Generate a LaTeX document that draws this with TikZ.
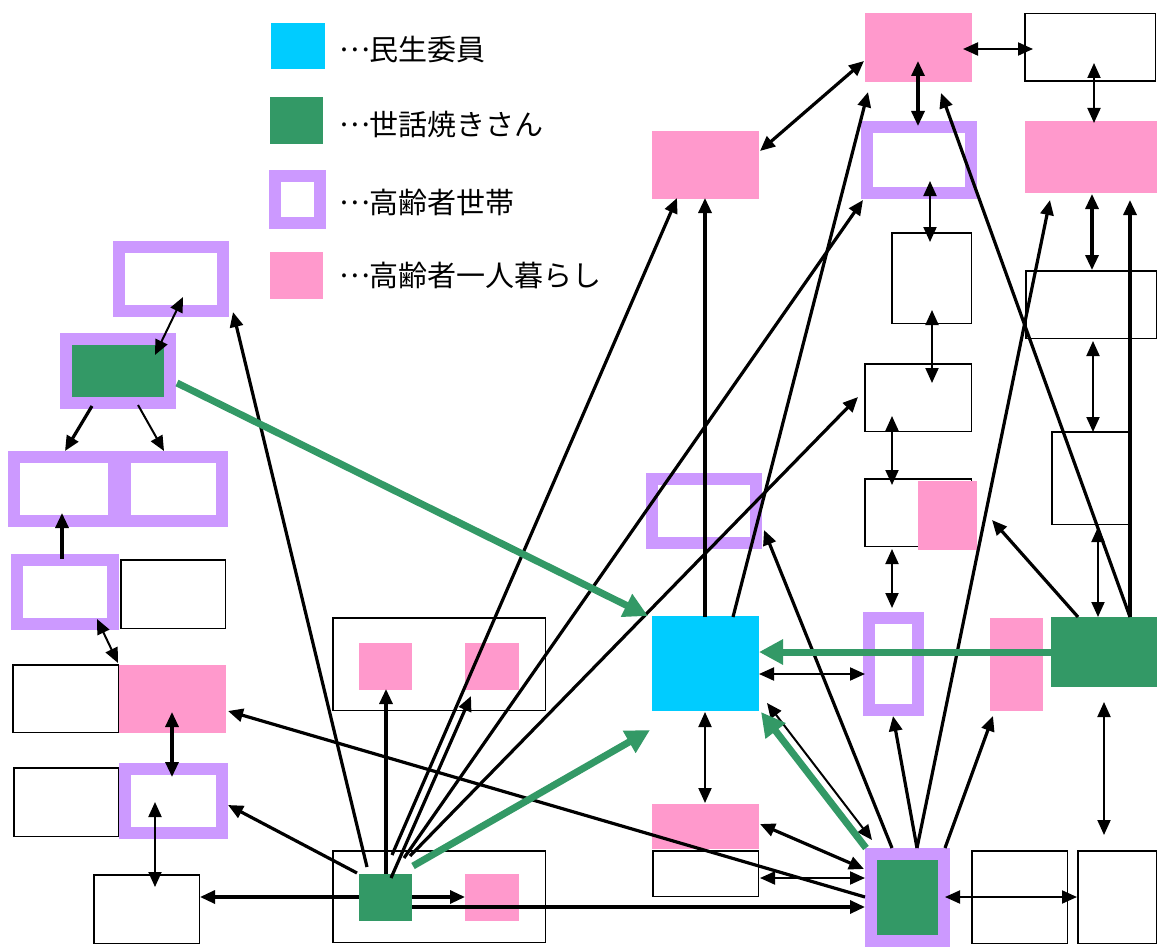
\documentclass[tikz,border=0pt]{standalone}
\usepackage{fontspec}
\newfontfamily\cjk{Noto Sans CJK JP}
\usetikzlibrary{arrows.meta,calc}
\definecolor{cyanc}{HTML}{00CCFF}
\definecolor{greenc}{HTML}{339966}
\definecolor{purpc}{HTML}{CC99FF}
\definecolor{pinkc}{HTML}{FF99CC}
\newcommand{\middots}{\raisebox{9pt}{…}}
\begin{document}
\begin{tikzpicture}[x=1pt,y=-1pt,
  >={Triangle[length=15pt,width=13pt]},
  box/.style={inner sep=0pt, outer sep=0pt},
  sz/.style 2 args={minimum width=#1, minimum height=#2},
  pbox/.style={box, draw=purpc, line width=12pt, fill=white},
  wbox/.style={box, draw=black, line width=1.5pt, fill=white},
  pk/.style={box, fill=pinkc},
  gn/.style={box, fill=greenc},
  cy/.style={box, fill=cyanc},
  thk/.style={line width=3.2pt},
  thn/.style={line width=2pt},
  garr/.style={draw=greenc, line width=7pt, -{Triangle[length=24pt,width=24pt]}},
  lab/.style={anchor=west, inner sep=0pt, font=\cjk\fontsize{29pt}{34pt}\selectfont}
]
\useasboundingbox[fill=white] (0,0) rectangle (1157,947);

% legend
\node[cy, sz={54pt}{46pt}] (L1) at (298,46) {};
\node[gn, sz={53pt}{47pt}] (L2) at (296.5,120.5) {};
\node[pbox, sz={45pt}{47pt}] (L3) at (297.5,199.5) {};
\node[pk, sz={53pt}{47pt}] (L4) at (296.5,275.5) {};
\node[lab] (T1) at (339,50) {\middots 民生委員};
\node[lab] (T2) at (339,124) {\middots 世話焼きさん};
\node[lab] (T3) at (339,202) {\middots 高齢者世帯};
\node[lab] (T4) at (339,275) {\middots 高齢者一人暮らし};

% left group
\node[pbox, sz={104pt}{64pt}] (A1) at (171,279) {};
\node[pbox, fill=greenc, sz={104pt}{64pt}] (A2) at (118,371) {};
\node[pbox, sz={100pt}{64pt}] (A3) at (64,489) {};
\node[pbox, sz={97pt}{64pt}] (A4) at (173.5,489) {};
\node[pbox, sz={96pt}{64pt}] (A5) at (65,592) {};
\node[wbox, sz={104.5pt}{68.5pt}] (A6) at (173,594) {};
\node[wbox, sz={105.5pt}{67.5pt}] (A7) at (65.5,698.5) {};
\node[pk, sz={107pt}{68pt}] (A8) at (172.5,699) {};
\node[wbox, sz={104.5pt}{68.5pt}] (A9) at (66,802) {};
\node[pbox, sz={97pt}{64pt}] (A10) at (173.5,801) {};
\node[wbox, sz={105.5pt}{68.5pt}] (A11) at (146.5,909) {};

% middle bottom
\node[wbox, sz={212.5pt}{92.5pt}] (B1) at (439,664) {};
\node[pk, sz={53pt}{47pt}] (B1a) at (385.5,666.5) {};
\node[pk, sz={54pt}{47pt}] (B1b) at (492,666.5) {};
\node[wbox, sz={212.5pt}{91.5pt}] (B2) at (439,896.5) {};
\node[gn, sz={53pt}{47pt}] (B2a) at (385.5,897.5) {};
\node[pk, sz={54pt}{47pt}] (B2b) at (492,897.5) {};

% center column
\node[pk, sz={107pt}{68pt}] (C1) at (705.5,165) {};
\node[pbox, sz={104pt}{64pt}] (C2) at (704,511) {};
\node[cy, sz={107pt}{95pt}] (C3) at (705.5,663.5) {};
\node[pk, sz={107pt}{45pt}] (C4) at (705.5,826.5) {};
\node[wbox, sz={105.5pt}{45.5pt}] (C5) at (705.5,873.5) {};
\node[pbox, sz={49pt}{92pt}] (C6) at (893.5,664) {};
\node[pbox, fill=greenc, sz={73pt}{87pt}] (C7) at (907.5,897.5) {};

% right columns
\node[pk, sz={107pt}{69pt}] (D1) at (918.5,47.5) {};
\node[wbox, sz={130.5pt}{67.5pt}] (D2) at (1090,47.5) {};
\node[pbox, sz={104pt}{66pt}] (D3) at (919,160) {};
\node[pk, sz={132pt}{72pt}] (D4) at (1091,157) {};
\node[wbox, sz={79.5pt}{90.5pt}] (D5) at (931.5,278) {};
\node[wbox, sz={130.5pt}{67.5pt}] (D6) at (1091,304.5) {};
\node[wbox, sz={106.5pt}{67.5pt}] (D7) at (918,397.5) {};
\node[wbox, sz={106.5pt}{67.5pt}] (D8) at (918,512.5) {};
\node[pk, sz={59pt}{69pt}] (D8p) at (947.5,515.5) {};
\node[wbox, sz={77.5pt}{92.5pt}] (D9) at (1090.5,478) {};
\node[pk, sz={53pt}{93pt}] (D10) at (1016.5,664.5) {};
\node[gn, sz={106pt}{70pt}] (D11) at (1104,652) {};
\node[wbox, sz={95.5pt}{92.5pt}] (D12) at (1019.5,897) {};
\node[wbox, sz={78.5pt}{92.5pt}] (D13) at (1117,897) {};

% ---- black connectors ----
\draw[thn,<->] ($(A1)+(12,18)$) -- ($(A2)+(37,-16)$);
\draw[thk,->] ($(A2)+(-26,35)$) -- ($(A3)+(1,-38)$);
\draw[thn,->] ($(A2)+(20,34)$) -- ($(A4)+(-9.5,-38)$);
\draw[thk,->] ($(A5)+(-3,-33)$) -- ($(A3)+(-2,24)$);
\draw[thn,<->] ($(A5)+(32,27)$) -- ($(A8)+(-54.5,-36)$);
\draw[thk,<->] ($(A8)+(-0.5,13)$) -- ($(A10)+(-1.5,-24)$);
\draw[thn,<->] ($(A10)+(-18.5,1)$) -- ($(A11)+(8.5,-22)$);

\draw[thk,->] ($(B2a)+(-26.5,-0.5)$) -- ($(A11)+(53.5,-12)$);
\draw[thk,->] ($(B2a)+(-28.5,-24.5)$) -- ($(A10)+(54.5,4)$);
\draw[thk,->] ($(C7)+(-42.5,-0.5)$) -- ($(A8)+(55.5,12)$);
\draw[thk,->] ($(B2a)+(-18.5,-30.5)$) -- ($(A1)+(62,33)$);
\draw[thk,->] ($(B2a)+(0.5,-23.5)$) -- ($(B1a)+(0.5,22.5)$);
\draw[thk,->] ($(B2a)+(26.5,-0.5)$) -- ($(B2b)+(-27,-0.5)$);
\draw[thk,->] ($(B2a)+(26.5,9.5)$) -- ($(C7)+(-42.5,9.5)$);
\draw[thk,->] ($(B2a)+(6.5,-42.5)$) -- ($(C1)+(-28.5,33)$);
\draw[thk,->] ($(B2a)+(5.5,-19.5)$) -- ($(B1b)+(-21,29.5)$);
\draw[thk,->] ($(B2a)+(18.5,-39.5)$) -- ($(D3)+(-56,40)$);
\draw[thk,->] ($(B2a)+(24.5,-41.5)$) -- ($(D7)+(-60,-0.5)$);

\draw[thn,<->] ($(C3)+(53.5,10.5)$) -- ($(C6)+(-28.5,10)$);
\draw[thn,<->] ($(C3)+(61.5,39.5)$) -- ($(C7)+(-35.5,-57.5)$);
\draw[thn,<->] ($(C3)+(-0.5,48.5)$) -- ($(C4)+(-0.5,-23.5)$);
\draw[thk,<->] ($(C4)+(54.5,-2.5)$) -- ($(C7)+(-43.5,-28.5)$);
\draw[thn,<->] ($(C5)+(54.5,4.5)$) -- ($(C7)+(-42.5,-19.5)$);
\draw[thk,->] ($(C3)+(-0.5,-46.5)$) -- ($(C1)+(-0.5,33)$);
\draw[thk,->] ($(C3)+(27.5,-46.5)$) -- ($(D1)+(-50.5,44.5)$);
\draw[thk,<->] ($(C1)+(54.5,-14)$) -- ($(D1)+(-54.5,13.5)$);

\draw[thk,->] ($(C7)+(-15.5,-49.5)$) -- ($(C2)+(60,19)$);
\draw[thk,->] ($(C7)+(9.5,-49.5)$) -- ($(C6)+(-0.5,52)$);
\draw[thk,->] ($(C7)+(9.5,-49.5)$) -- ($(D4)+(-41,43)$);
\draw[thk,->] ($(C7)+(37.5,-49.5)$) -- ($(D10)+(-23.5,51.5)$);
\draw[thn,<->] ($(C7)+(37.5,-0.5)$) -- ($(D13)+(-40,0)$);

\draw[thn,<->] ($(D11)+(0,50)$) -- ($(D13)+(-13,-62)$);
\draw[thk,->] ($(D11)+(-26,-35)$) -- ($(D8p)+(44.5,4.5)$);
\draw[thn,<->] ($(D11)+(-6,-35)$) -- ($(D9)+(7.5,49)$);
\draw[thk,->] ($(D11)+(26,-35)$) -- ($(D4)+(39,43)$);
\draw[thk,->] ($(D11)+(26,-35)$) -- ($(D1)+(22.5,45.5)$);
\draw[thn,<->] ($(D6)+(2,36.5)$) -- ($(D9)+(2.5,-46)$);
\draw[thk,<->] ($(D4)+(1,37)$) -- ($(D6)+(1,-34.5)$);
\draw[thn,<->] ($(D2)+(4,15.5)$) -- ($(D4)+(3,-34)$);
\draw[thn,<->] ($(D1)+(44.5,1.5)$) -- ($(D2)+(-57,1.5)$);
\draw[thk,<->] ($(D1)+(-0.5,13.5)$) -- ($(D3)+(-1,-34)$);
\draw[thn,<->] ($(D3)+(11,21)$) -- ($(D5)+(-1.5,-36)$);
\draw[thn,<->] ($(D5)+(0.5,32)$) -- ($(D7)+(14,-14.5)$);
\draw[thn,<->] ($(D7)+(-26,18.5)$) -- ($(D8)+(-26,-27.5)$);
\draw[thn,<->] ($(D8)+(-26,36.5)$) -- ($(C6)+(-1.5,-56)$);

% ---- green connectors ----
\draw[garr] ($(B2a)+(27.5,-31.5)$) -- ($(C3)+(-55.5,66.5)$);
\draw[garr] ($(A2)+(59,12)$) -- ($(C3)+(-57.5,-47.5)$);
\draw[garr] ($(D11)+(-53,0)$) -- ($(C3)+(53.5,-11.5)$);
\draw[garr] ($(C7)+(-41.5,-49.5)$) -- ($(C3)+(55.5,48.5)$);
\end{tikzpicture}
\end{document}
